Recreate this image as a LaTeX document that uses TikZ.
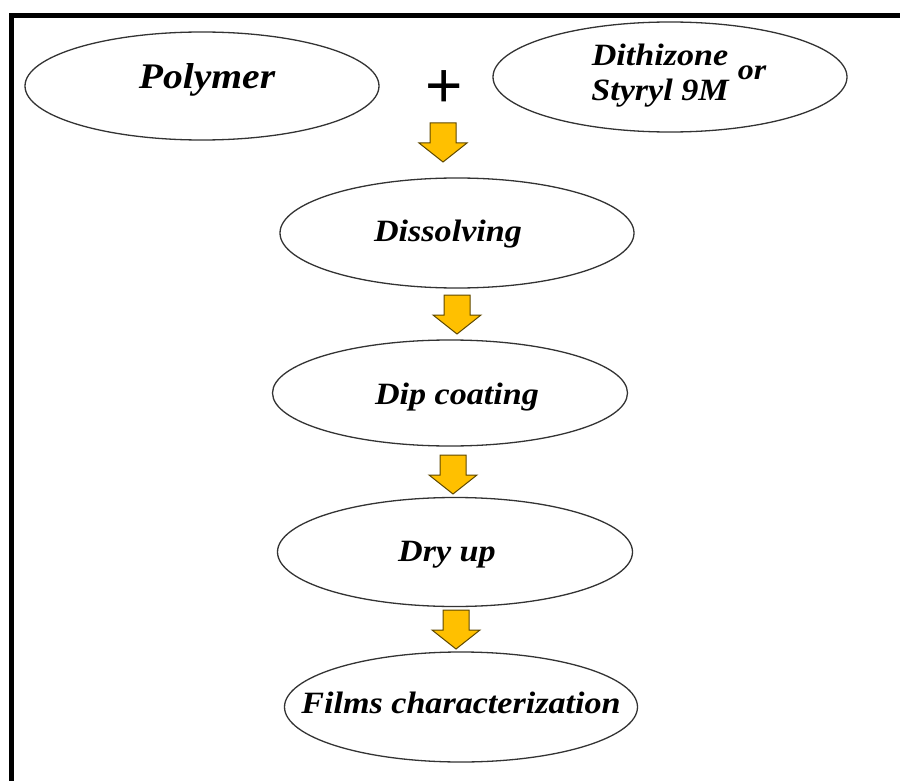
\documentclass[tikz,border=0pt]{standalone}
\usepackage{fontspec}
\setmainfont{Liberation Serif}
\newfontfamily\labelfont[FakeStretch=1.1]{Liberation Serif}
\newfontfamily\plusfont{Liberation Sans}
\usetikzlibrary{shapes.geometric}
\definecolor{arrowgold}{HTML}{FFC000}
\definecolor{arrowedge}{HTML}{5E4800}
\tikzset{
  stage/.style={ellipse, draw=black!80, line width=1.3pt, inner sep=0pt,
    minimum width=354pt, minimum height=108pt},
  lbl/.style={inner sep=0pt, text height=20.5pt, text depth=0pt,
    font=\labelfont\bfseries\itshape\fontsize{31}{36}\selectfont},
  downarrow/.pic={
    \path[fill=arrowgold, draw=arrowedge, line width=1pt, line join=miter]
      (-13,0) -- (13,0) -- (13,20) -- (24,20) -- (0,39) -- (-24,20)
      -- (-13,20) -- cycle;
  }
}
\begin{document}
\begin{tikzpicture}[x=1pt, y=-1pt]
\useasboundingbox (0,0) rectangle (900,781);

% frame
\draw[line width=5pt, line join=miter] (11,781) -- (11,15.5) -- (900,15.5);

% stages
\node[stage] (poly) at (202,86) {};
\node[stage, minimum height=110pt] (dith) at (670,77) {};
\node[stage, minimum height=110pt] (diss) at (457,233) {};
\node[stage, minimum width=355pt, minimum height=106pt] (dip) at (450,393) {};
\node[stage, minimum width=355pt, minimum height=109pt] (dry) at (455,552) {};
\node[stage, minimum width=353pt, minimum height=110pt] (films) at (461,707) {};

% labels
\node[lbl, text height=23.8pt, font=\labelfont\bfseries\itshape\fontsize{36}{40}\selectfont]
  (tpoly) at (207,77) {Polymer};
\node[lbl] (tdith) at (660,55) {Dithizone};
\node[lbl] (tstyr) at (660,90) {Styryl 9M};
\node[inner sep=0pt, font=\labelfont\bfseries\itshape\fontsize{29}{34}\selectfont]
  (tor) at (752,73) {or};
\node[lbl] (tdiss) at (448,231) {Dissolving};
\node[lbl] (tdip) at (457,394) {Dip coating};
\node[lbl] (tdry) at (447,551) {Dry up};
\node[lbl] (tfilms) at (461,703) {Films characterization};

% plus sign
\node[inner sep=0pt, font=\plusfont\fontsize{64}{64}\selectfont] (plus) at (444,89) {+};

% flow arrows
\pic (a1) at (443,123) {downarrow};
\pic (a2) at (457,295) {downarrow};
\pic (a3) at (453,455) {downarrow};
\pic (a4) at (456,610) {downarrow};
\end{tikzpicture}
\end{document}
